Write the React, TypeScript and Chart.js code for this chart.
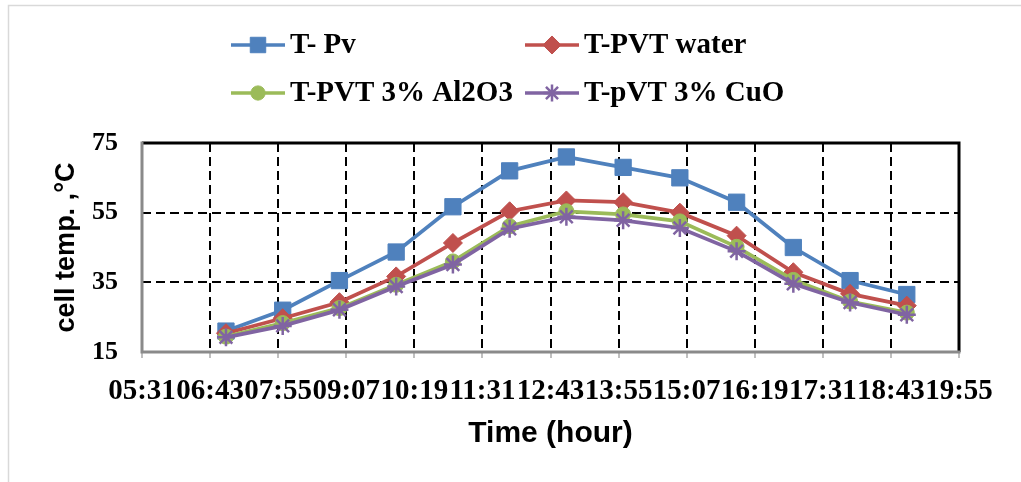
import React, { useEffect, useRef } from 'react';
import { Chart, registerables } from 'chart.js';
import { drawPoint } from 'chart.js/helpers';

Chart.register(...registerables);

// ---- data ----
const timeHours = [7, 8, 9, 10, 11, 12, 13, 14, 15, 16, 17, 18, 19];
const tickHours = [5.52, 6.72, 7.92, 9.12, 10.32, 11.52, 12.72, 13.92, 15.12, 16.32, 17.52, 18.72, 19.92];
const tickLabels = ['05:31', '06:43', '07:55', '09:07', '10:19', '11:31', '12:43', '13:55', '15:07', '16:19', '17:31', '18:43', '19:55'];
const yTicks = [15, 35, 55, 75];

const seriesNames = ['T- Pv', 'T-PVT water', 'T-PVT 3% Al2O3', 'T-pVT 3% CuO'];
const tPv = [21, 27, 35.5, 43.7, 56.7, 67, 71, 68, 65, 58, 45, 35.5, 31.5];
const tPvtWater = [20.4, 24.7, 29.3, 36.7, 46.3, 55.4, 58.5, 58, 55, 48.4, 37.9, 31.7, 28.3];
const tPvtAl2O3 = [19.4, 23.3, 27.6, 34.3, 41, 51.1, 55.4, 54.5, 52.5, 45.2, 35.7, 29.5, 26.3];
const tPvtCuO = [19.2, 22.5, 27.1, 33.8, 40.1, 50.4, 53.8, 52.8, 50.6, 43.9, 34.6, 29.2, 25.7];

const seriesValues = [tPv, tPvtWater, tPvtAl2O3, tPvtCuO];
const seriesColors = ['#4F81BD', '#C0504D', '#9BBB59', '#8064A2'];
const seriesPointStyles = ['rect', 'rectRot', 'circle', 'star'];
const seriesPointRadius = [11.5, 9.5, 7.5, 9];

const SERIF = '"Liberation Serif", "Times New Roman", serif';
const SANS = '"Liberation Sans", Arial, sans-serif';

const outerFramePlugin = {
  id: 'outerFrame',
  beforeDraw(chart: any) {
    const { ctx } = chart;
    ctx.save();
    ctx.fillStyle = '#fff';
    ctx.fillRect(0, 0, chart.width, chart.height);
    ctx.strokeStyle = '#d9d9d9';
    ctx.lineWidth = 1.5;
    ctx.strokeRect(8.5, 5.5, 3000, 3000);
    ctx.restore();
  },
};

const plotFramePlugin = {
  id: 'plotFrame',
  beforeDatasetsDraw(chart: any) {
    const { ctx, chartArea: a } = chart;
    ctx.save();
    ctx.lineWidth = 3;
    ctx.strokeStyle = '#000';
    ctx.beginPath();
    ctx.moveTo(a.left, a.top);
    ctx.lineTo(a.right, a.top);
    ctx.lineTo(a.right, a.bottom);
    ctx.stroke();
    ctx.strokeStyle = '#8a8a8a';
    ctx.beginPath();
    ctx.moveTo(a.left, a.top - 1.5);
    ctx.lineTo(a.left, a.bottom);
    ctx.lineTo(a.right + 1.5, a.bottom);
    ctx.stroke();
    ctx.restore();
  },
};

const legendSlots = [
  [231, 45],
  [525, 45],
  [231, 93],
  [525, 93],
];

const customLegendPlugin = {
  id: 'customLegend',
  afterDraw(chart: any) {
    const { ctx } = chart;
    ctx.save();
    chart.data.datasets.forEach((ds: any, i: number) => {
      const [x, y] = legendSlots[i];
      ctx.strokeStyle = ds.borderColor;
      ctx.lineWidth = 3.5;
      ctx.beginPath();
      ctx.moveTo(x, y);
      ctx.lineTo(x + 54, y);
      ctx.stroke();
      ctx.fillStyle = ds.pointBackgroundColor;
      ctx.strokeStyle = ds.pointBorderColor;
      ctx.lineWidth = ds.pointBorderWidth;
      drawPoint(ctx, { pointStyle: ds.pointStyle, radius: ds.pointRadius * 0.95, borderWidth: ds.pointBorderWidth, rotation: 0 }, x + 27, y);
      ctx.fillStyle = '#000';
      ctx.font = `bold 29px ${SERIF}`;
      ctx.textBaseline = 'middle';
      ctx.textAlign = 'left';
      ctx.fillText(ds.label, x + 59, y + 1);
    });
    ctx.restore();
  },
};

export default function App() {
  const canvasRef = useRef<HTMLCanvasElement | null>(null);

  useEffect(() => {
    if (!canvasRef.current) return;
    const datasets = seriesNames.map((name, i) => ({
      label: name,
      data: timeHours.map((h, j) => ({ x: h, y: seriesValues[i][j] })),
      borderColor: seriesColors[i],
      backgroundColor: seriesColors[i],
      borderWidth: 3.75,
      pointStyle: seriesPointStyles[i],
      pointRadius: seriesPointRadius[i],
      pointBackgroundColor: seriesColors[i],
      pointBorderColor: seriesColors[i],
      pointBorderWidth: i === 3 ? 2.5 : 1,
      tension: 0,
      fill: false,
      order: 4 - i,
    }));

    const last = tickHours.length - 1;

    const chart = new Chart(canvasRef.current, {
      type: 'line',
      data: { datasets },
      options: {
        animation: false,
        responsive: false,
        layout: { padding: { top: 143, right: 62, bottom: 20, left: 0 } },
        plugins: {
          legend: { display: false },
          tooltip: { enabled: false },
        },
        scales: {
          x: {
            type: 'linear',
            min: tickHours[0],
            max: tickHours[last],
            afterBuildTicks: (scale: any) => {
              scale.ticks = tickHours.map((v) => ({ value: v }));
            },
            afterFit: (scale: any) => {
              scale.height = 110;
            },
            ticks: {
              autoSkip: false,
              maxRotation: 0,
              minRotation: 0,
              padding: 16,
              color: '#000',
              font: { family: SERIF, size: 29, weight: 'bold' },
              callback: (_v: any, index: number) => tickLabels[index],
            },
            grid: {
              color: (c: any) => (c.index === 0 || c.index === last ? 'rgba(0,0,0,0)' : '#000'),
              lineWidth: 2,
              drawTicks: true,
              tickLength: 6,
              tickColor: '#bfbfbf',
              tickWidth: 2,
              tickBorderDash: [],
            },
            border: { display: false, dash: [9, 5] },
            title: {
              display: true,
              text: 'Time (hour)',
              color: '#000',
              font: { family: SANS, size: 30, weight: 'bold' },
              padding: { top: 0, bottom: 10 },
            },
          },
          y: {
            type: 'linear',
            min: yTicks[0],
            max: yTicks[yTicks.length - 1],
            afterBuildTicks: (scale: any) => {
              scale.ticks = yTicks.map((v) => ({ value: v }));
            },
            afterFit: (scale: any) => {
              scale.width = 142;
            },
            ticks: {
              padding: 24,
              color: '#000',
              font: { family: SERIF, size: 26, weight: 'bold' },
            },
            grid: {
              color: (c: any) => (c.index === 0 || c.index === yTicks.length - 1 ? 'rgba(0,0,0,0)' : '#000'),
              lineWidth: 2,
              drawTicks: false,
            },
            border: { display: false, dash: [9, 5] },
            title: {
              display: true,
              text: 'cell temp. ,°C',
              color: '#000',
              font: { family: SANS, size: 27, weight: 'bold' },
              padding: { top: 50, bottom: 0 },
            },
          },
        },
      },
      plugins: [outerFramePlugin, plotFramePlugin, customLegendPlugin],
    });

    return () => chart.destroy();
  }, []);

  return (
    <div style={{ position: 'fixed', left: 0, top: 0, width: 1021, height: 482, background: '#fff' }}>
      <canvas ref={canvasRef} width={1021} height={482} />
    </div>
  );
}
